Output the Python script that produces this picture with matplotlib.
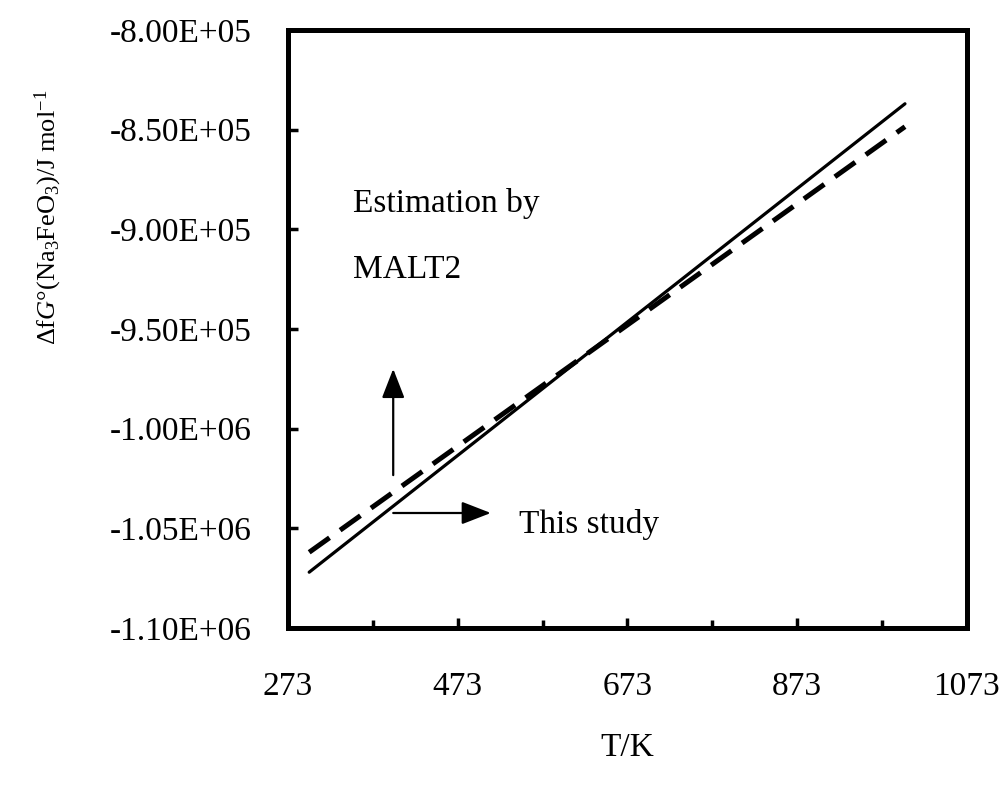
import matplotlib
matplotlib.use("Agg")
import matplotlib.pyplot as plt
from matplotlib.ticker import FixedLocator

plt.rcParams['font.family'] = ['Liberation Serif', 'DejaVu Serif']
plt.rcParams['mathtext.fontset'] = 'custom'
plt.rcParams['mathtext.rm'] = 'Liberation Serif'
plt.rcParams['mathtext.it'] = 'Liberation Serif:italic'

# Temperatures (K) and standard Gibbs energy of formation (J/mol)
T_this_study = [298, 1000]
G_this_study = [-1.072e6, -8.37e5]
T_malt2 = [298, 1000]
G_malt2 = [-1.062e6, -8.485e5]

x_ticks = [273, 473, 673, 873, 1073]
x_minor = [373, 573, 773, 973]
y_ticks = [-1.10e6, -1.05e6, -1.00e6, -9.50e5, -9.00e5, -8.50e5, -8.00e5]
y_tick_labels = ['-1.10E+06', '-1.05E+06', '-1.00E+06', '-9.50E+05',
                 '-9.00E+05', '-8.50E+05', '-8.00E+05']

fig = plt.figure(figsize=(10.02, 7.86), dpi=100)
ax = fig.add_axes([0.2874, 0.201, 0.6776, 0.7608])

ax.plot(T_this_study, G_this_study, color='black', lw=2.3,
        solid_capstyle='round')
ax.plot(T_malt2, G_malt2, color='black', lw=3.6, dashes=(5, 2.6),
        dash_capstyle='butt')

ax.set_xlim(273, 1073)
ax.set_ylim(-1.10e6, -8.00e5)
ax.set_xticks(x_ticks)
ax.set_xticklabels([str(t) for t in x_ticks])
ax.xaxis.set_minor_locator(FixedLocator(x_minor))
ax.set_yticks(y_ticks)
ax.set_yticklabels(y_tick_labels)

for s in ax.spines.values():
    s.set_linewidth(3.6)

ax.tick_params(axis='x', which='major', direction='in', length=7, width=2.5,
               pad=31, labelsize=24, top=False)
ax.tick_params(axis='x', which='minor', direction='in', length=6, width=2.5,
               top=False)
ax.tick_params(axis='y', which='major', direction='in', length=7, width=2.5,
               pad=26, labelsize=24, right=False)

ax.set_xlabel('T/K', fontsize=24, labelpad=22)
ax.set_ylabel(r'$\Delta$f$G$°(Na$_3$FeO$_3$)/J mol$^{-1}$', fontsize=19,
              ha='center', va='center')
ax.yaxis.set_label_coords(-0.353, 0.686)

# Annotation arrows and labels
arrow_kw = dict(arrowstyle='-|>,head_length=0.9,head_width=0.35',
                color='black', lw=1.6, mutation_scale=20,
                shrinkA=0, shrinkB=0)
ax.annotate('', xy=(397, -9.70e5), xytext=(397, -1.0233e6),
            arrowprops=arrow_kw)
ax.annotate('', xy=(512, -1.0423e6), xytext=(397, -1.0423e6),
            arrowprops=arrow_kw)

ax.text(350, -8.869e5, 'Estimation by', fontsize=24, ha='left', va='center')
ax.text(350, -9.205e5, 'MALT2', fontsize=24, ha='left', va='center')
ax.text(545, -1.0483e6, 'This study', fontsize=24, ha='left', va='center')

fig.savefig('out.png', dpi=100)
